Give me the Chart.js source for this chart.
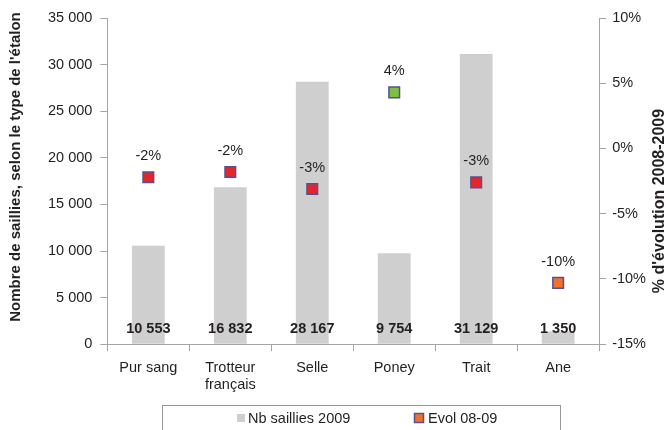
<!doctype html>
<html>
<head>
  <meta charset="utf-8">
  <title>Saillies par type d'étalon</title>
  <script src="https://cdn.jsdelivr.net/npm/chart.js@4.4.1/dist/chart.umd.min.js"></script>
  <style>
    html, body { margin: 0; padding: 0; background: #fff; }
    #wrap { width: 666px; height: 430px; }
  </style>
</head>
<body>
<div id="wrap">
  <canvas id="chart" width="666" height="430"></canvas>
</div>
<script>
  // data
  const categories = ['Pur sang', ['Trotteur', 'français'], 'Selle', 'Poney', 'Trait', 'Ane'];
  const saillies2009 = [10553, 16832, 28167, 9754, 31129, 1350];
  const evol0809 = [-2.2, -1.8, -3.1, 4.3, -2.6, -10.3];
  const evolLabels = ['-2%', '-2%', '-3%', '4%', '-3%', '-10%'];
  const markerColors = ['#e3262c', '#e3262c', '#e3262c', '#7cc142', '#e3262c', '#f0702e'];

  const txt = '#231f20';
  const axisGrey = '#a8a4a4';
  const fam = '"Liberation Sans", Arial, sans-serif';
  const fs = 14.5;

  function fmtSpace(n) {
    return String(n).replace(/\B(?=(\d{3})+(?!\d))/g, ' ');
  }

  const labelPlugin = {
    id: 'valueLabels',
    afterDatasetsDraw(chart) {
      const ctx = chart.ctx;
      ctx.save();
      ctx.textAlign = 'center';
      ctx.textBaseline = 'middle';
      ctx.fillStyle = txt;
      // bar values near the base
      ctx.font = 'bold ' + fs + 'px ' + fam;
      chart.getDatasetMeta(0).data.forEach((bar, i) => {
        ctx.fillText(fmtSpace(saillies2009[i]), bar.x, bar.base - 15);
      });
      // evolution labels above markers
      ctx.font = fs + 'px ' + fam;
      chart.getDatasetMeta(1).data.forEach((pt, i) => {
        ctx.fillText(evolLabels[i], pt.x, pt.y - 21);
      });
      ctx.restore();
    }
  };

  // axis titles (right one reads bottom-to-top) and boxed legend
  const extras = {
    id: 'extras',
    afterDraw(chart) {
      const ctx = chart.ctx;
      ctx.save();
      ctx.fillStyle = txt;
      ctx.font = 'bold 15px ' + fam;
      ctx.textAlign = 'center';
      ctx.textBaseline = 'middle';
      ctx.translate(16, 167);
      ctx.rotate(-Math.PI / 2);
      ctx.fillText("Nombre de saillies, selon le type de l'étalon", 0, 0);
      ctx.restore();

      ctx.save();
      ctx.fillStyle = txt;
      ctx.font = 'bold 16px ' + fam;
      ctx.textAlign = 'center';
      ctx.textBaseline = 'middle';
      ctx.translate(660, 201);
      ctx.rotate(-Math.PI / 2);
      ctx.fillText("% d'évolution 2008-2009", 0, 0);
      ctx.restore();

      // legend
      ctx.save();
      ctx.strokeStyle = '#9a9696';
      ctx.lineWidth = 1;
      ctx.strokeRect(162.5, 405.5, 398, 40);
      ctx.font = fs + 'px ' + fam;
      ctx.textBaseline = 'middle';
      ctx.textAlign = 'left';
      const ds = chart.data.datasets;
      ctx.fillStyle = ds[0].backgroundColor;
      ctx.fillRect(237, 414, 8, 8);
      ctx.fillStyle = txt;
      ctx.fillText(ds[0].label, 248, 419);
      ctx.fillStyle = ds[1].backgroundColor;
      ctx.fillRect(414.5, 413.5, 9, 9);
      ctx.strokeStyle = ds[1].borderColor;
      ctx.lineWidth = 1.5;
      ctx.strokeRect(414.5, 413.5, 9, 9);
      ctx.fillStyle = txt;
      ctx.fillText(ds[1].label, 428, 419);
      ctx.restore();
    }
  };

  const data_config = {
    labels: categories,
    datasets: [{
      type: 'bar',
      label: 'Nb saillies 2009',
      data: saillies2009,
      backgroundColor: '#cfcfcf',
      borderWidth: 0,
      yAxisID: 'y',
      categoryPercentage: 1,
      barPercentage: 0.4,
      order: 2
    },
    {
      type: 'line',
      label: 'Evol 08-09',
      data: evol0809,
      showLine: false,
      pointStyle: 'rect',
      pointRadius: 7.5,
      pointBackgroundColor: markerColors,
      pointBorderColor: '#5a4f8c',
      pointBorderWidth: 1.5,
      backgroundColor: '#f0702e',
      borderColor: '#5a4f8c',
      yAxisID: 'y1',
      order: 1
    }]
  };

  const config = {
    type: 'bar',
    data: data_config,
    plugins: [labelPlugin, extras],
    options: {
      responsive: false,
      animation: false,
      layout: { padding: { top: 18, left: 40, right: 14, bottom: 28 } },
      plugins: {
        tooltip: { enabled: false },
        legend: { display: false }
      },
      scales: {
        x: {
          grid: { display: true, drawOnChartArea: false, offset: true, tickLength: 7, color: axisGrey },
          border: { color: axisGrey },
          ticks: { color: txt, font: { size: fs, family: fam }, padding: 8 }
        },
        y: {
          type: 'linear',
          position: 'left',
          min: 0,
          max: 35000,
          grid: { display: true, drawOnChartArea: false, tickLength: 7, color: axisGrey },
          border: { color: axisGrey },
          ticks: {
            stepSize: 5000,
            color: txt,
            padding: 8,
            font: { size: fs, family: fam },
            callback: v => fmtSpace(v)
          }
        },
        y1: {
          type: 'linear',
          position: 'right',
          min: -15,
          max: 10,
          grid: { display: true, drawOnChartArea: false, tickLength: 7, color: axisGrey },
          border: { color: axisGrey },
          ticks: {
            stepSize: 5,
            color: txt,
            padding: 6,
            font: { size: fs, family: fam },
            callback: v => v + '%'
          }
        }
      }
    }
  };

  new Chart(document.getElementById('chart').getContext('2d'), config);
</script>
</body>
</html>
